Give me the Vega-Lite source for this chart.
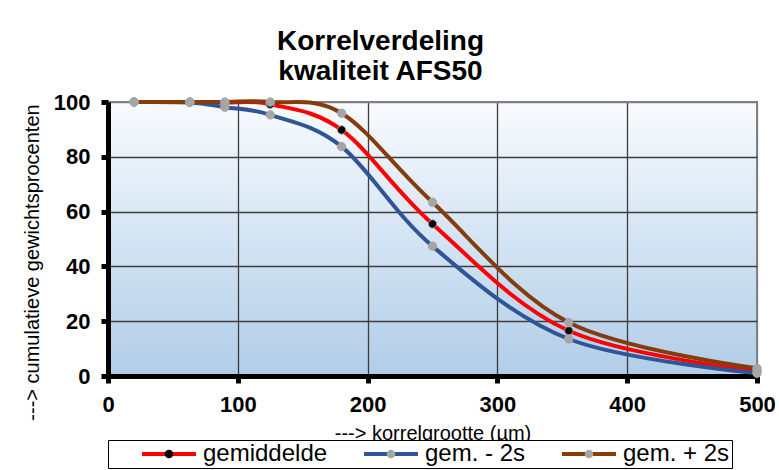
{
  "$schema": "https://vega.github.io/schema/vega-lite/v6.json",
  "width": 649,
  "height": 274,
  "autosize": {"type": "none"},
  "padding": {"left": 108, "top": 102, "right": 22, "bottom": 94},
  "background": "white",
  "config": {
    "font": "Liberation Sans",
    "view": {"stroke": "#808080", "strokeWidth": 2}
  },
  "view": {
    "fill": {"gradient": "linear", "x1": 0, "y1": 0, "x2": 0, "y2": 1,
      "stops": [{"offset": 0, "color": "#f8fbfe"}, {"offset": 1, "color": "#b0cde8"}]},
    "stroke": "#808080",
    "strokeWidth": 2
  },
  "title": {
    "text": ["Korrelverdeling", "kwaliteit AFS50"],
    "font": "Liberation Sans",
    "fontSize": 28,
    "fontWeight": "bold",
    "color": "black",
    "anchor": "middle",
    "dx": -52,
    "baseline": "alphabetic",
    "lineHeight": 30,
    "offset": -17
  },
  "data": {
    "values": [
      {"x": 20, "y": 100, "s": "gemiddelde"},
      {"x": 63, "y": 100, "s": "gemiddelde"},
      {"x": 90, "y": 99.8, "s": "gemiddelde"},
      {"x": 125, "y": 99.2, "s": "gemiddelde"},
      {"x": 180, "y": 89.8, "s": "gemiddelde"},
      {"x": 250, "y": 55.5, "s": "gemiddelde"},
      {"x": 355, "y": 16.5, "s": "gemiddelde"},
      {"x": 500, "y": 1.8, "s": "gemiddelde"},
      {"x": 20, "y": 100, "s": "gem. - 2s"},
      {"x": 63, "y": 99.8, "s": "gem. - 2s"},
      {"x": 90, "y": 98.1, "s": "gem. - 2s"},
      {"x": 125, "y": 95.3, "s": "gem. - 2s"},
      {"x": 180, "y": 83.7, "s": "gem. - 2s"},
      {"x": 250, "y": 47.4, "s": "gem. - 2s"},
      {"x": 355, "y": 13.5, "s": "gem. - 2s"},
      {"x": 500, "y": 1.0, "s": "gem. - 2s"},
      {"x": 20, "y": 100, "s": "gem. + 2s"},
      {"x": 63, "y": 100, "s": "gem. + 2s"},
      {"x": 90, "y": 100, "s": "gem. + 2s"},
      {"x": 125, "y": 100, "s": "gem. + 2s"},
      {"x": 180, "y": 95.9, "s": "gem. + 2s"},
      {"x": 250, "y": 63.4, "s": "gem. + 2s"},
      {"x": 355, "y": 19.5, "s": "gem. + 2s"},
      {"x": 500, "y": 2.8, "s": "gem. + 2s"}
    ]
  },
  "encoding": {
    "x": {
      "field": "x", "type": "quantitative",
      "scale": {"domain": [0, 500], "nice": false, "zero": false},
      "axis": {
        "values": [0, 100, 200, 300, 400, 500],
        "title": "---> korrelgrootte (µm)",
        "titleFontSize": 20, "titleFontWeight": "normal", "titleColor": "black",
        "titleY": 63, "titleBaseline": "alphabetic",
        "labelFontSize": 22, "labelFontWeight": "bold", "labelColor": "black",
        "labelPadding": 11, "labelFlush": false,
        "domainColor": "black", "domainWidth": 5,
        "tickColor": "black", "tickWidth": 5, "tickSize": 7,
        "gridColor": {"condition": {"test": "datum.value == 500", "value": "#808080"}, "value": "#3c3c3c"},
        "gridWidth": 1.3
      }
    },
    "y": {
      "field": "y", "type": "quantitative",
      "scale": {"domain": [0, 100], "nice": false},
      "axis": {
        "values": [0, 20, 40, 60, 80, 100],
        "title": "---> cumulatieve gewichtsprocenten",
        "titleFontSize": 20, "titleFontWeight": "normal", "titleColor": "black",
        "titleX": -70, "titleY": 160, "titleBaseline": "alphabetic",
        "labelFontSize": 22, "labelFontWeight": "bold", "labelColor": "black",
        "labelPadding": 11, "labelFlush": false,
        "domainColor": "black", "domainWidth": 5,
        "tickColor": "black", "tickWidth": 5, "tickSize": 7,
        "gridColor": {"condition": {"test": "datum.value == 100", "value": "#808080"}, "value": "#3c3c3c"},
        "gridWidth": 1.3
      }
    }
  },
  "layer": [
    {
      "mark": {"type": "line", "interpolate": "cardinal", "strokeWidth": 4},
      "encoding": {
        "color": {
          "field": "s", "type": "nominal",
          "scale": {"domain": ["gemiddelde", "gem. - 2s", "gem. + 2s"], "range": ["#ff0000", "#2f5597", "#843c0c"]},
          "legend": {
            "orient": "none", "legendX": 0, "legendY": 338, "direction": "horizontal",
            "title": " ", "titleOrient": "left", "titlePadding": 30, "titleFontSize": 24,
            "symbolType": "stroke", "symbolSize": 2916, "symbolStrokeWidth": 4,
            "clipHeight": 24,
            "labelFont": "Liberation Sans", "labelFontSize": 24, "labelColor": "black",
            "labelOffset": 5, "columnPadding": 34, "padding": 2,
            "strokeColor": "black", "fillColor": "white",
            "labelExpr": "datum.label == 'gem. + 2s' ? datum.label + '    ' : datum.label"
          }
        }
      }
    },
    {
      "mark": {"type": "circle", "size": 70, "opacity": 1, "stroke": "#a6a6a6", "strokeWidth": 1},
      "encoding": {
        "fill": {
          "field": "s", "type": "nominal",
          "sort": ["gemiddelde", "gem. - 2s", "gem. + 2s"],
          "scale": {"range": ["black", "#a6a6a6", "#a6a6a6"]},
          "legend": {
            "orient": "none", "legendX": 0, "legendY": 338, "direction": "horizontal",
            "title": " ", "titleOrient": "left", "titlePadding": 30, "titleFontSize": 24,
            "symbolType": "M-1,0H1M0.16,0A0.16,0.16,0,1,1,-0.16,0A0.16,0.16,0,1,1,0.16,0Z",
            "symbolSize": 2916, "symbolStrokeWidth": 4, "symbolStrokeColor": "transparent",
            "symbolOpacity": 1,
            "clipHeight": 24,
            "labelFont": "Liberation Sans", "labelFontSize": 24, "labelColor": "transparent",
            "labelOffset": 5, "columnPadding": 34, "padding": 2,
            "strokeColor": "transparent", "fillColor": "transparent",
            "labelExpr": "datum.label == 'gem. + 2s' ? datum.label + '    ' : datum.label"
          }
        }
      }
    }
  ]
}
